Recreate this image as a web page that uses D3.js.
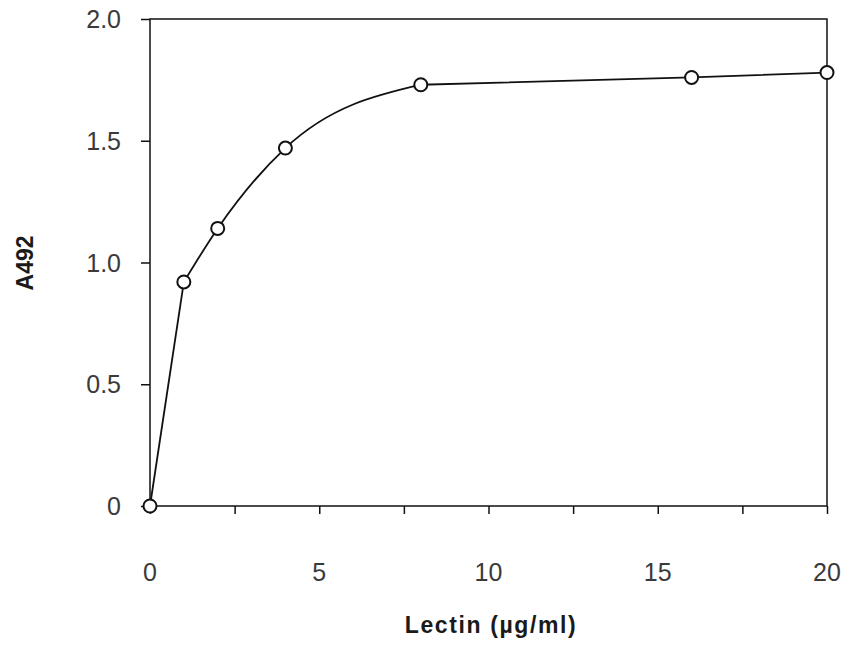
<!DOCTYPE html>
<html>
<head>
<meta charset="utf-8">
<script src="https://cdn.jsdelivr.net/npm/d3@7"></script>
<style>
  html, body { margin: 0; padding: 0; background: #fff; }
  svg { display: block; }
  text { font-family: "Liberation Sans", Arial, sans-serif; }
</style>
</head>
<body>
<svg id="chart" width="850" height="659"></svg>
<script>
// Data
const lectin = [0, 1, 2, 4, 8, 16, 20];          // µg/ml
const a492   = [0, 0.92, 1.14, 1.47, 1.73, 1.76, 1.78];
const xTickLabels = [0, 5, 10, 15, 20];
const xMinorTicks = [0, 2.5, 5, 7.5, 10, 12.5, 15, 17.5, 20];
const yTickValues = [0, 0.5, 1.0, 1.5, 2.0];
const yTickLabels = ["0", "0.5", "1.0", "1.5", "2.0"];
const xTitle = "Lectin (\u00b5g/ml)";
const yTitle = "A492";

const svg = d3.select("#chart");
const L = 150, R = 827, T = 19, B = 506;

const x = d3.scaleLinear().domain([0, 20]).range([L, R]);
const y = d3.scaleLinear().domain([0, 2]).range([B, T]);

// frame
svg.append("rect")
  .attr("x", L).attr("y", T).attr("width", R - L).attr("height", B - T)
  .attr("fill", "none").attr("stroke", "#111").attr("stroke-width", 1.5);

// x axis ticks (outward, below)
const xAxis = d3.axisBottom(x).tickValues(xMinorTicks).tickSize(8).tickFormat("");
const gx = svg.append("g").attr("transform", `translate(0,${B})`).call(xAxis);
gx.select(".domain").remove();
gx.selectAll("line").attr("stroke", "#111").attr("stroke-width", 1.5);

// x tick labels
svg.append("g").selectAll("text").data(xTickLabels).join("text")
  .attr("x", d => x(d)).attr("y", 581)
  .attr("text-anchor", "middle")
  .attr("font-size", 25).attr("fill", "#3a3a3a")
  .text(d => d);

// y axis ticks (outward, left)
const yAxis = d3.axisLeft(y).tickValues(yTickValues).tickSize(9).tickFormat("");
const gy = svg.append("g").attr("transform", `translate(${L},0)`).call(yAxis);
gy.select(".domain").remove();
gy.selectAll("line").attr("stroke", "#111").attr("stroke-width", 1.5);

// y tick labels
svg.append("g").selectAll("text").data(yTickValues).join("text")
  .attr("x", 121).attr("y", d => y(d)).attr("dy", "0.36em")
  .attr("text-anchor", "end")
  .attr("font-size", 25).attr("fill", "#3a3a3a")
  .text((d, i) => yTickLabels[i]);

// titles
svg.append("text")
  .attr("x", 491).attr("y", 633)
  .attr("text-anchor", "middle")
  .attr("font-size", 23).attr("font-weight", "bold").attr("fill", "#1a1a1a")
  .attr("letter-spacing", 1.6)
  .text(xTitle);

svg.append("text")
  .attr("transform", "translate(33,263) rotate(-90)")
  .attr("text-anchor", "middle")
  .attr("font-size", 23).attr("font-weight", "bold").attr("fill", "#1a1a1a")
  .text(yTitle);

// curve: straight 0->1, smooth 1..8, straight 8->20
const pts = lectin.map((d, i) => [d, a492[i]]);
const lin = d3.line().x(d => x(d[0])).y(d => y(d[1]));
const smooth = d3.line().x(d => x(d[0])).y(d => y(d[1])).curve(d3.curveMonotoneX);
const g = svg.append("g").attr("fill", "none").attr("stroke", "#111").attr("stroke-width", 1.8);
g.append("path").attr("d", lin(pts.slice(0, 2)));
g.append("path").attr("d", smooth(pts.slice(1, 5)));
g.append("path").attr("d", lin(pts.slice(4)));

// markers
svg.append("g").selectAll("circle").data(pts).join("circle")
  .attr("cx", d => x(d[0])).attr("cy", d => y(d[1]))
  .attr("r", 6.5)
  .attr("fill", "#fff").attr("stroke", "#111").attr("stroke-width", 2);
</script>
</body>
</html>
